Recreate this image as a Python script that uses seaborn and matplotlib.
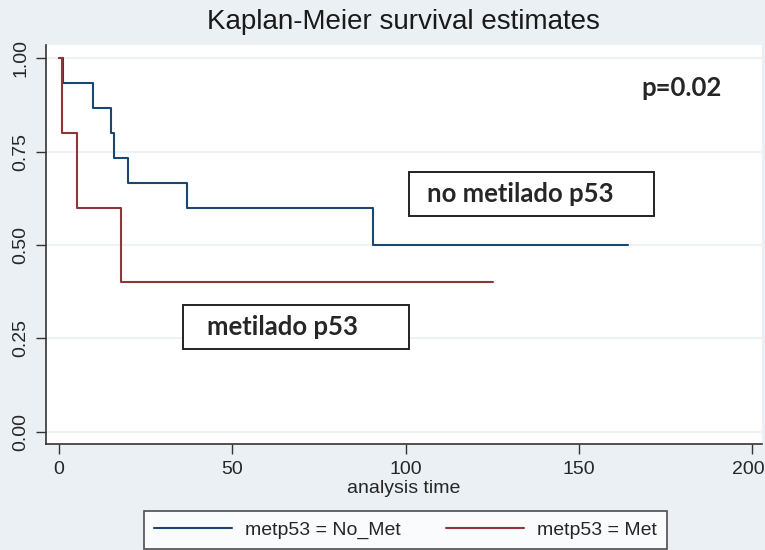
import seaborn as sns
import matplotlib.pyplot as plt
from matplotlib.patches import Rectangle
from matplotlib.transforms import ScaledTranslation
import pandas as pd

# survival step values
no_met_time = [0, 1.2, 9.9, 14.9, 16.0, 19.9, 36.9, 90.6, 164.2]
no_met_surv = [1.0, 0.933, 0.867, 0.800, 0.733, 0.667, 0.600, 0.500, 0.500]
met_time = [0, 0.9, 5.2, 17.8, 125.2]
met_surv = [1.0, 0.8, 0.6, 0.4, 0.4]

groups = ['metp53 = No_Met', 'metp53 = Met']
colors = ['#1a476f', '#90353b']
x_ticks = [0, 50, 100, 150, 200]
y_ticks = [0.00, 0.25, 0.50, 0.75, 1.00]

df = pd.concat([
    pd.DataFrame({'time': no_met_time, 'surv': no_met_surv, 'group': groups[0]}),
    pd.DataFrame({'time': met_time, 'surv': met_surv, 'group': groups[1]}),
])

sns.set_style('white')
plt.rcParams['font.family'] = ['Liberation Sans', 'DejaVu Sans']

bg = '#eaf0f4'
fig = plt.figure(figsize=(7.65, 5.5), dpi=100, facecolor=bg)
ax = fig.add_axes([0.060, 0.193, 0.936, 0.725])
ax.set_facecolor('white')

sns.lineplot(data=df, x='time', y='surv', hue='group', hue_order=groups,
             palette=colors, drawstyle='steps-post', estimator=None,
             linewidth=1.5, ax=ax, legend=False)

ax.set_xlim(-3.75, 202.8)
ax.set_ylim(-0.032, 1.035)
ax.set_xticks(x_ticks)
ax.set_xticklabels([str(t) for t in x_ticks], fontsize=14)
ax.set_yticks(y_ticks)
ax.set_yticklabels([f'{t:.2f}' for t in y_ticks], fontsize=14, rotation=90, va='center')
ax.yaxis.grid(True, color='#eaf0f4', linewidth=1.2)
ax.set_axisbelow(True)
for side in ['top', 'right']:
    ax.spines[side].set_visible(False)
for side in ['left', 'bottom']:
    ax.spines[side].set_color('#333333')
    ax.spines[side].set_linewidth(1.2)
ax.tick_params(axis='both', direction='out', length=7, width=1, color='#333333',
               left=True, bottom=True, pad=5)
ax.set_xlabel('analysis time', fontsize=14, labelpad=2)
ax.set_ylabel('')

# keep the last x label inside the figure edge
last = ax.get_xticklabels()[-1]
last.set_transform(last.get_transform() + ScaledTranslation(-4 / 100, 0, fig.dpi_scale_trans))

fig.text(0.528, 0.96, 'Kaplan-Meier survival estimates', fontsize=20, ha='center',
         va='center', color='#1a1a1a')

# annotations
lbl = dict(fontsize=18.5, fontweight='bold', family=['Lato', 'DejaVu Sans'])
ax.text(0.944, 0.892, 'p=0.02', transform=ax.transAxes, ha='right', va='center', **lbl)

ax.add_patch(Rectangle((0.507, 0.571), 0.342, 0.111, transform=ax.transAxes,
                       facecolor='white', edgecolor='#222222', linewidth=1.4, zorder=3))
ax.text(0.532, 0.627, 'no metilado p53', transform=ax.transAxes, ha='left', va='center',
        zorder=4, **lbl)
ax.add_patch(Rectangle((0.191, 0.238), 0.316, 0.110, transform=ax.transAxes,
                       facecolor='white', edgecolor='#222222', linewidth=1.4, zorder=3))
ax.text(0.225, 0.293, 'metilado p53', transform=ax.transAxes, ha='left', va='center',
        zorder=4, **lbl)

handles = [plt.Line2D([], [], color=c, linewidth=1.5) for c in colors]
leg = fig.legend(handles, groups, loc='center', bbox_to_anchor=(0.53, 0.0365), ncol=2,
                 fontsize=14, frameon=True, fancybox=False, edgecolor='#222222',
                 handlelength=4.0, handletextpad=0.7, columnspacing=2.3, borderpad=0.5)
leg.get_frame().set_linewidth(1.2)

fig.savefig('out.png', dpi=100, facecolor=bg)
